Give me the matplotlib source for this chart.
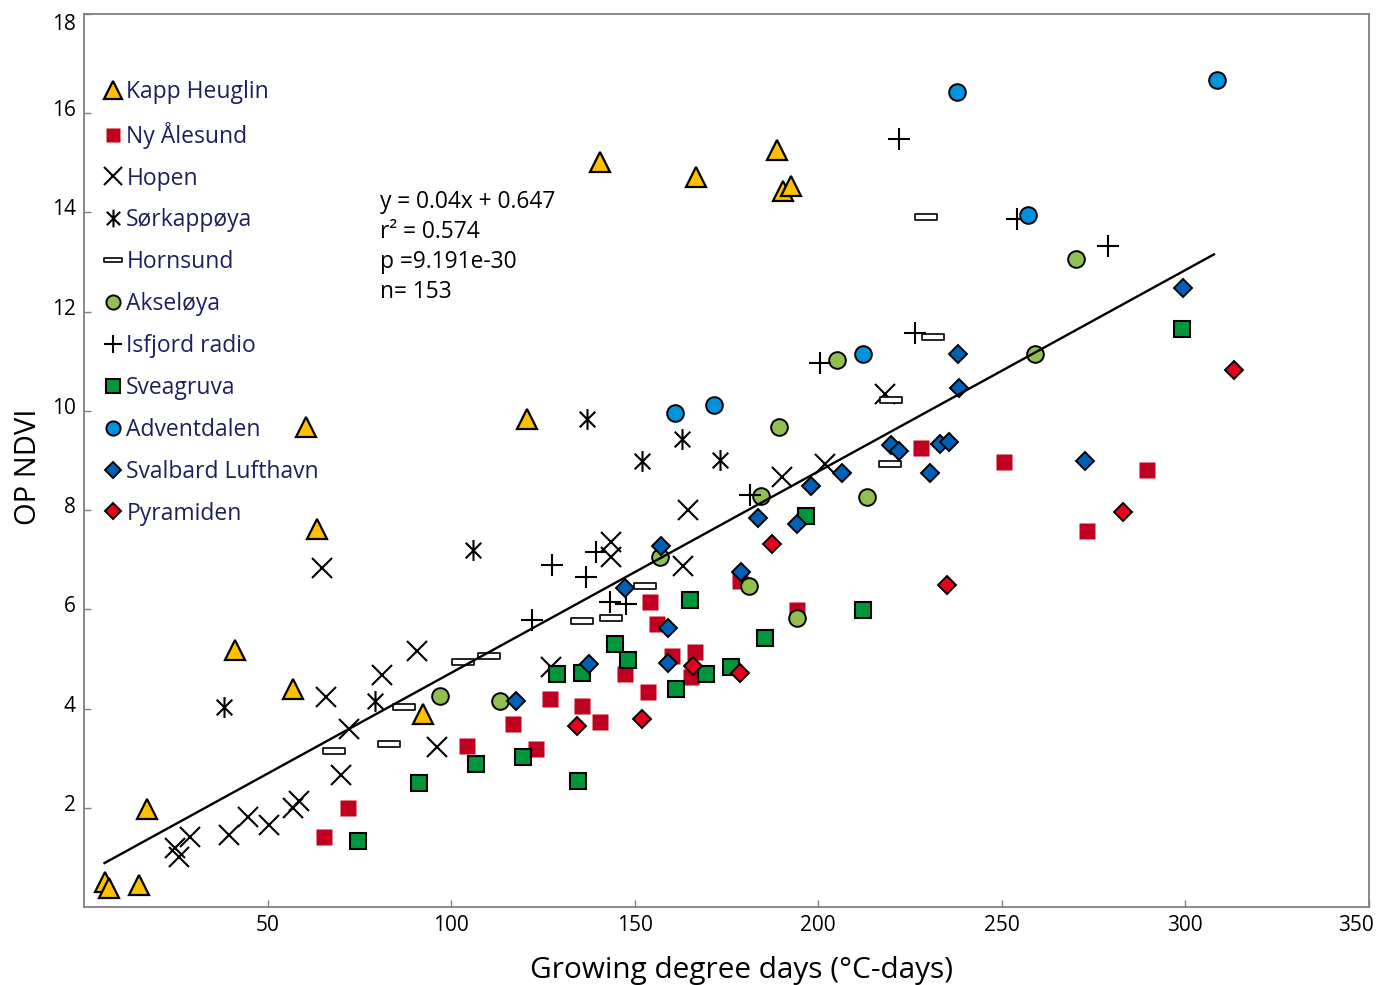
import numpy as np
import matplotlib.pyplot as plt
from matplotlib.path import Path
from matplotlib.transforms import ScaledTranslation

plt.rcParams["font.family"] = ["Open Sans", "DejaVu Sans"]

# ---- data (growing degree days, OP NDVI) per station ----
kapp_x = [5.8, 6.9, 15.1, 17.1, 56.9, 41.2, 92.3, 60.5, 63.4, 120.7, 140.5, 166.8, 188.9, 190.4, 192.7]
kapp_y = [0.51, 0.38, 0.44, 1.97, 4.40, 5.17, 3.88, 9.68, 7.61, 9.83, 15.02, 14.71, 15.26, 14.44, 14.54]

ny_x = [65.3, 72.0, 104.3, 116.8, 123.2, 127.0, 135.7, 140.7, 147.3, 153.6, 154.3, 156.2, 160.3,
        165.3, 166.5, 178.6, 194.2, 228.0, 250.5, 273.2, 289.5]
ny_y = [1.41, 1.99, 3.25, 3.68, 3.19, 4.19, 4.06, 3.73, 4.69, 4.33, 6.15, 5.71, 5.05,
        4.63, 5.14, 6.58, 5.98, 9.26, 8.97, 7.58, 8.81]

hopen_x = [24.8, 26.0, 29.0, 39.5, 44.6, 50.5, 56.9, 58.7, 69.9, 72.2, 65.8, 64.8, 81.2, 90.7,
           96.2, 127.3, 143.6, 143.6, 163.2, 164.5, 190.2, 201.8, 218.1]
hopen_y = [1.18, 1.01, 1.41, 1.45, 1.82, 1.65, 1.99, 2.13, 2.67, 3.58, 4.23, 6.83, 4.67, 5.15,
           3.23, 4.84, 7.36, 7.05, 6.88, 8.00, 8.66, 8.93, 10.35]

sork_x = [38.1, 79.4, 105.9, 137.0, 152.0, 163.0, 173.2]
sork_y = [4.03, 4.16, 7.20, 9.83, 8.99, 9.43, 9.01]

horn_x = [68.2, 83.2, 87.1, 103.2, 110.2, 135.7, 143.5, 152.7, 229.3, 231.4, 219.7, 219.5]
horn_y = [3.15, 3.29, 4.03, 4.94, 5.05, 5.76, 5.83, 6.48, 13.90, 11.49, 10.22, 8.93]

aks_x = [97.1, 113.2, 156.8, 184.5, 181.2, 194.1, 189.2, 213.4, 205.1, 259.1, 270.2]
aks_y = [4.25, 4.16, 7.05, 8.29, 6.46, 5.83, 9.68, 8.26, 11.02, 11.14, 13.07]

isf_x = [122.0, 127.6, 136.8, 139.6, 143.2, 147.7, 181.3, 221.9, 254.2, 279.0, 226.5, 200.4]
isf_y = [5.79, 6.90, 6.66, 7.15, 6.14, 6.10, 8.31, 15.48, 13.86, 13.33, 11.56, 10.97]

svea_x = [74.6, 91.4, 106.9, 119.6, 134.6, 128.9, 135.7, 144.6, 148.2, 161.2, 169.5, 176.2,
          185.6, 165.2, 196.8, 212.2, 299.2]
svea_y = [1.33, 2.49, 2.89, 3.02, 2.54, 4.70, 4.72, 5.31, 4.97, 4.39, 4.70, 4.84,
          5.43, 6.19, 7.89, 5.99, 11.66]

adv_x = [161.1, 171.5, 212.3, 237.7, 257.1, 308.7]
adv_y = [9.95, 10.11, 11.15, 16.42, 13.94, 16.67]

luft_x = [117.6, 137.7, 159.1, 159.1, 147.5, 157.1, 179.1, 183.6, 194.3, 198.0, 206.6, 219.8,
          221.9, 233.1, 235.6, 230.4, 238.4, 238.2, 272.8, 299.4]
luft_y = [4.16, 4.90, 4.92, 5.63, 6.42, 7.28, 6.75, 7.85, 7.72, 8.49, 8.74, 9.31,
          9.19, 9.33, 9.38, 8.74, 10.47, 11.14, 8.98, 12.48]

pyr_x = [134.3, 152.0, 165.9, 178.8, 187.4, 235.2, 282.9, 313.3]
pyr_y = [3.65, 3.78, 4.86, 4.71, 7.32, 6.50, 7.97, 10.83]

# regression line as drawn
fit_slope, fit_icpt = 0.0406, 0.658
fit_range = [5.6, 307.8]

xticks = [50, 100, 150, 200, 250, 300, 350]
yticks = [2, 4, 6, 8, 10, 12, 14, 16, 18]

# ---- custom markers ----
asterisk = Path([(-0.75, -0.75), (0.75, 0.75), (-0.75, 0.75), (0.75, -0.75), (0, -1), (0, 1)],
                [Path.MOVETO, Path.LINETO, Path.MOVETO, Path.LINETO, Path.MOVETO, Path.LINETO])
slab = Path([(-1, -0.26), (1, -0.26), (1, 0.26), (-1, 0.26), (-1, -0.26)],
            [Path.MOVETO, Path.LINETO, Path.LINETO, Path.LINETO, Path.CLOSEPOLY])

fig = plt.figure(figsize=(13.92, 9.85), dpi=100)
ax = fig.add_axes([0.0603, 0.0792, 0.9231, 0.9066])

kw = dict(ls="none")
ax.plot(kapp_x, kapp_y, marker="^", ms=15, mfc="#FFC000", mec="black", mew=1.6, label="Kapp Heuglin", **kw)
ax.plot(ny_x, ny_y, marker="s", ms=11.5, mfc="#C0001E", mec="none", label="Ny Ålesund", **kw)
ax.plot(hopen_x, hopen_y, marker="x", ms=15, mec="black", mew=1.5, label="Hopen", **kw)
ax.plot(sork_x, sork_y, marker=asterisk, ms=15, mfc="none", mec="black", mew=1.5, label="Sørkappøya", **kw)
ax.plot(horn_x, horn_y, marker=slab, ms=16, mfc="white", mec="black", mew=1.2, label="Hornsund", **kw)
ax.plot(aks_x, aks_y, marker="o", ms=12, mfc="#92C050", mec="black", mew=1.4, label="Akseløya", **kw)
ax.plot(isf_x, isf_y, marker="+", ms=16, mec="black", mew=1.5, label="Isfjord radio", **kw)
ax.plot(svea_x, svea_y, marker="s", ms=11.5, mfc="#00963C", mec="black", mew=1.5, label="Sveagruva", **kw)
ax.plot(adv_x, adv_y, marker="o", ms=12, mfc="#0093DD", mec="black", mew=1.4, label="Adventdalen", **kw)
ax.plot(luft_x, luft_y, marker="D", ms=9, mfc="#0060B6", mec="black", mew=1.4, label="Svalbard Lufthavn", **kw)
ax.plot(pyr_x, pyr_y, marker="D", ms=9, mfc="#E8001C", mec="black", mew=1.4, label="Pyramiden", **kw)

fx = np.array(fit_range)
ax.plot(fx, fit_slope * fx + fit_icpt, color="black", lw=1.7)

ax.text(0.2304, 0.8026, "y = 0.04x + 0.647\nr² = 0.574\np =9.191e-30\nn= 153",
        transform=ax.transAxes, ha="left", va="top", fontsize=16.4, linespacing=1.33)

ax.set_xlim(0, 350)
ax.set_ylim(0, 18)
ax.set_xticks(xticks)
ax.set_yticks(yticks)
ax.tick_params(direction="in", length=5, width=1, color="#808080", labelsize=15, pad=6)
for s in ax.spines.values():
    s.set_color("#808080")
    s.set_linewidth(1.3)

# small label nudges as in the original
for v, lab in zip(yticks, ax.get_yticklabels()):
    dy = -8 if v == 18 else 5
    lab.set_transform(lab.get_transform() + ScaledTranslation(0, dy / 100, fig.dpi_scale_trans))
last = ax.get_xticklabels()[-1]
last.set_transform(last.get_transform() + ScaledTranslation(-13 / 100, 0, fig.dpi_scale_trans))

ax.set_xlabel("Growing degree days (°C-days)", fontsize=21.4, labelpad=14)
ax.xaxis.label.set_x(0.512)
ax.set_ylabel("OP NDVI", fontsize=21, labelpad=6)
ax.yaxis.label.set_y(0.493)

leg = ax.legend(loc="upper left", bbox_to_anchor=(0.008, 0.9366), frameon=False, fontsize=16.5,
                handlelength=0.8, handletextpad=0.2, labelspacing=0.78, markerscale=0.85,
                borderaxespad=0, labelcolor="#1F1F5E")

fig.savefig("out.png", dpi=100)
